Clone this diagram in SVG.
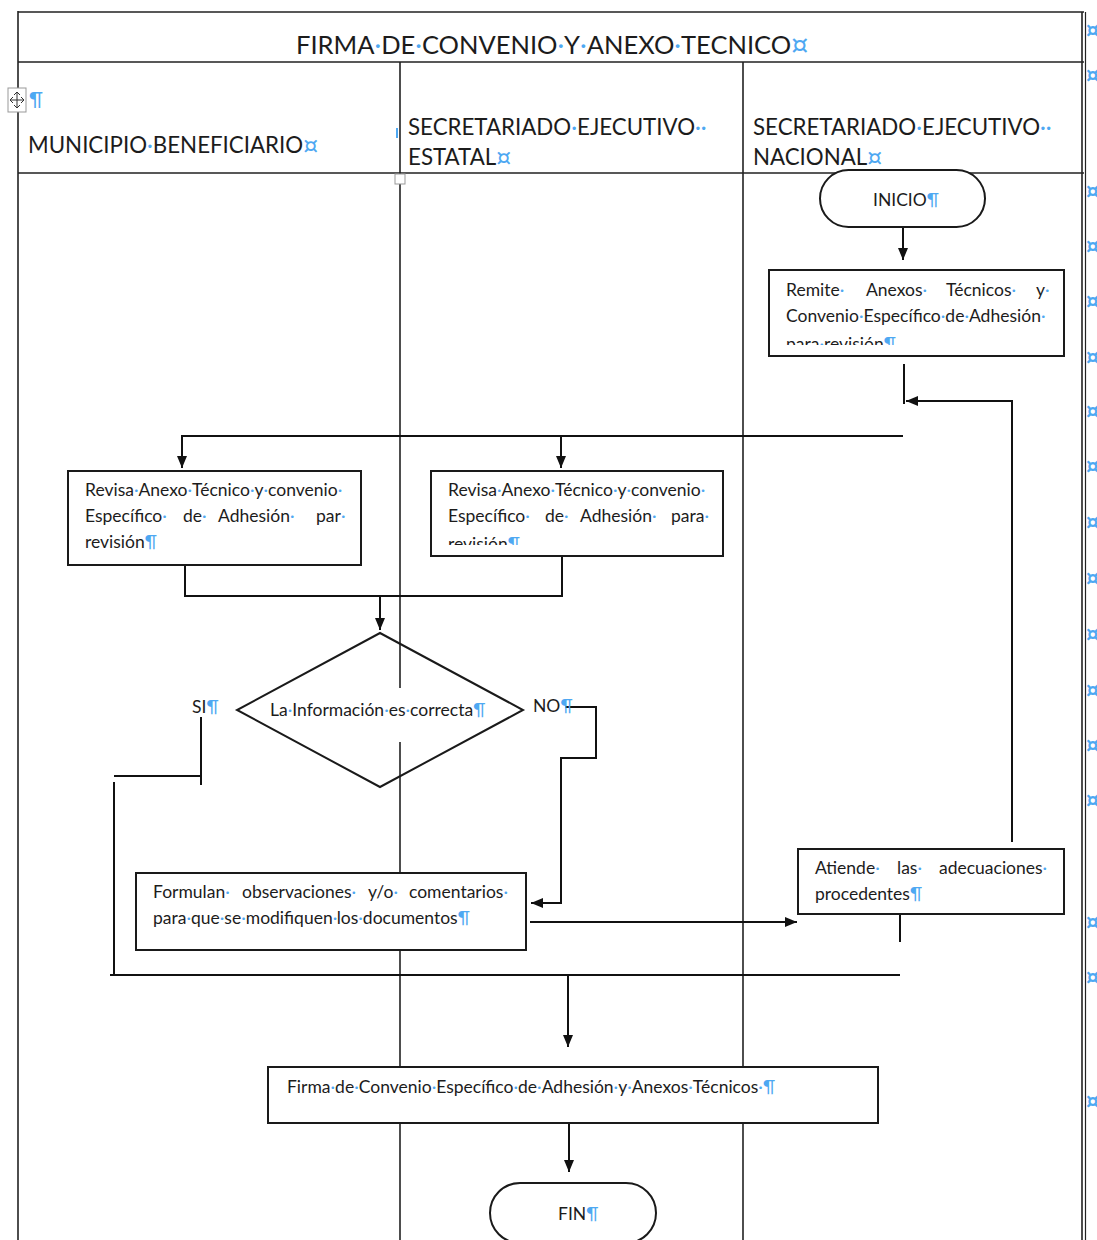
<svg xmlns="http://www.w3.org/2000/svg" width="1097" height="1240" viewBox="0 0 1097 1240">
<style>
.t{font-family:Lato,"Open Sans","Liberation Sans",sans-serif;fill:#1c1c1c}
.m{fill:#4ea8f2}
.k{fill:#4ea8f2;font-family:"DejaVu Sans",sans-serif;font-size:1.05em}
.r{fill:#4ea8f2;font-family:"DejaVu Sans",sans-serif;font-size:21px;font-weight:bold}
.grid{stroke:#222;stroke-width:1.6;fill:none}
.box{fill:#fff;stroke:#1a1a1a;stroke-width:2}
.dia{fill:none;stroke:#1a1a1a;stroke-width:2}
.c{fill:none;stroke:#111;stroke-width:2}
.b16{font-size:17.5px}
.h21{font-size:22.3px}
</style>
<defs>
<marker id="ah" markerWidth="12" markerHeight="10" refX="12" refY="5" orient="auto" markerUnits="userSpaceOnUse">
<path d="M0,0 L12,5 L0,10 z" fill="#111"/>
</marker>
<clipPath id="clipR"><rect x="770" y="270" width="294" height="75"/></clipPath>
<clipPath id="clipB"><rect x="432" y="471" width="290" height="74"/></clipPath>
</defs>
<rect width="1097" height="1240" fill="#fff"/>

<g id="table">
<path class="grid" d="M18,12 H1084 M18,62 H1084 M18,173 H1084 M18,11 V1240 M1082,12 V1240 M743,62 V1240 M400,62 V688 M400,742 V1240"/>
<path d="M1085.5,12 V1240" stroke="#222" stroke-width="1.2"/>
<rect x="8" y="88" width="18" height="24" fill="#fff" stroke="#999" stroke-width="1"/>
<path d="M17,92 V108 M10,100 H24 M14,95 L17,92 L20,95 M14,105 L17,108 L20,105 M13,97 L10,100 L13,103 M21,97 L24,100 L21,103" stroke="#333" stroke-width="1" fill="none"/>
<rect x="395" y="174" width="10" height="10" fill="#fff" stroke="#999" stroke-width="1"/>
<path d="M397,128 V138" stroke="#4ea8f2" stroke-width="2"/>
<text class="t" x="296" y="54" font-size="25.5">FIRMA<tspan class="m">·</tspan>DE<tspan class="m">·</tspan>CONVENIO<tspan class="m">·</tspan>Y<tspan class="m">·</tspan>ANEXO<tspan class="m">·</tspan>TECNICO<tspan class="k">¤</tspan></text>
<text class="t m" x="29" y="106" font-size="20">¶</text>
<text class="t h21" x="28" y="153">MUNICIPIO<tspan class="m">·</tspan>BENEFICIARIO<tspan class="k">¤</tspan></text>
<text class="t h21" x="408" y="135">SECRETARIADO<tspan class="m">·</tspan>EJECUTIVO<tspan class="m">··</tspan></text>
<text class="t h21" x="408" y="165">ESTATAL<tspan class="k">¤</tspan></text>
<text class="t h21" x="753" y="135">SECRETARIADO<tspan class="m">·</tspan>EJECUTIVO<tspan class="m">··</tspan></text>
<text class="t h21" x="753" y="165">NACIONAL<tspan class="k">¤</tspan></text>
<g class="r">
<text x="1086" y="37">¤</text><text x="1086" y="82">¤</text><text x="1086" y="198">¤</text><text x="1086" y="253">¤</text>
<text x="1086" y="308">¤</text><text x="1086" y="364">¤</text><text x="1086" y="418">¤</text><text x="1086" y="473">¤</text>
<text x="1086" y="529">¤</text><text x="1086" y="585">¤</text><text x="1086" y="641">¤</text><text x="1086" y="697">¤</text>
<text x="1086" y="752">¤</text><text x="1086" y="807">¤</text><text x="1086" y="929">¤</text><text x="1086" y="984">¤</text>
<text x="1086" y="1108">¤</text>
</g>
</g>

<g id="connectors">
<path class="c" d="M903,227 V260" marker-end="url(#ah)"/>
<path class="c" d="M904,364 V404"/>
<path class="c" d="M1012,842 V401 H906" marker-end="url(#ah)"/>
<path class="c" d="M903,436 H182 V468" marker-end="url(#ah)"/>
<path class="c" d="M561,436 V468" marker-end="url(#ah)"/>
<path class="c" d="M185,565 V596 H562 V556"/>
<path class="c" d="M380,596 V630" marker-end="url(#ah)"/>
<path class="c" d="M201,717 V785 M114,776 H201 M114,782 V975 M110,975 H900 M900,914 V942"/>
<path class="c" d="M565,707 H596 V758 H561 V903 H531" marker-end="url(#ah)"/>
<path class="c" d="M530,922 H797" marker-end="url(#ah)"/>
<path class="c" d="M568,975 V1047" marker-end="url(#ah)"/>
<path class="c" d="M569,1118 V1172" marker-end="url(#ah)"/>
</g>

<g id="inicio">
<rect class="box" x="820" y="170" width="165" height="57" rx="28.5"/>
<text class="t b16" x="873" y="206">INICIO<tspan class="m">¶</tspan></text>
</g>

<g id="remite">
<rect class="box" x="769" y="270" width="295" height="86"/>
<text class="t b16" y="296"><tspan x="786">Remite<tspan class="m">·</tspan></tspan><tspan x="866">Anexos<tspan class="m">·</tspan></tspan><tspan x="946">Técnicos<tspan class="m">·</tspan></tspan><tspan x="1036">y<tspan class="m">·</tspan></tspan></text>
<text class="t b16" x="786" y="322">Convenio<tspan class="m">·</tspan>Específico<tspan class="m">·</tspan>de<tspan class="m">·</tspan>Adhesión<tspan class="m">·</tspan></text>
<text class="t b16" x="786" y="350" clip-path="url(#clipR)">para<tspan class="m">·</tspan>revisión<tspan class="m">¶</tspan></text>
</g>

<g id="revisa-municipio">
<rect class="box" x="68" y="471" width="293" height="94"/>
<text class="t b16" x="85" y="496">Revisa<tspan class="m">·</tspan>Anexo<tspan class="m">·</tspan>Técnico<tspan class="m">·</tspan>y<tspan class="m">·</tspan>convenio<tspan class="m">·</tspan></text>
<text class="t b16" y="522"><tspan x="85">Específico<tspan class="m">·</tspan></tspan><tspan x="183">de<tspan class="m">·</tspan></tspan><tspan x="218">Adhesión<tspan class="m">·</tspan></tspan><tspan x="316">par<tspan class="m">·</tspan></tspan></text>
<text class="t b16" x="85" y="548">revisión<tspan class="m">¶</tspan></text>
</g>

<g id="revisa-estatal">
<rect class="box" x="431" y="471" width="292" height="85"/>
<text class="t b16" x="448" y="496">Revisa<tspan class="m">·</tspan>Anexo<tspan class="m">·</tspan>Técnico<tspan class="m">·</tspan>y<tspan class="m">·</tspan>convenio<tspan class="m">·</tspan></text>
<text class="t b16" y="522"><tspan x="448">Específico<tspan class="m">·</tspan></tspan><tspan x="545">de<tspan class="m">·</tspan></tspan><tspan x="580">Adhesión<tspan class="m">·</tspan></tspan><tspan x="671">para<tspan class="m">·</tspan></tspan></text>
<text class="t b16" x="448" y="550" clip-path="url(#clipB)">revisión<tspan class="m">¶</tspan></text>
</g>

<g id="decision">
<path class="dia" d="M380,633 L523,710 L380,787 L237,710 Z"/>
<text class="t b16" x="270" y="716">La<tspan class="m">·</tspan>Información<tspan class="m">·</tspan>es<tspan class="m">·</tspan>correcta<tspan class="m">¶</tspan></text>
<text class="t b16" x="192" y="713">SI<tspan class="m">¶</tspan></text>
<text class="t b16" x="533" y="712">NO<tspan class="m">¶</tspan></text>
</g>

<g id="formulan">
<rect class="box" x="136" y="873" width="390" height="77"/>
<text class="t b16" y="898"><tspan x="153">Formulan<tspan class="m">·</tspan></tspan><tspan x="242">observaciones<tspan class="m">·</tspan></tspan><tspan x="368">y/o<tspan class="m">·</tspan></tspan><tspan x="409">comentarios<tspan class="m">·</tspan></tspan></text>
<text class="t b16" x="153" y="924">para<tspan class="m">·</tspan>que<tspan class="m">·</tspan>se<tspan class="m">·</tspan>modifiquen<tspan class="m">·</tspan>los<tspan class="m">·</tspan>documentos<tspan class="m">¶</tspan></text>
</g>

<g id="atiende">
<rect class="box" x="798" y="849" width="266" height="65"/>
<text class="t b16" y="874"><tspan x="815">Atiende<tspan class="m">·</tspan></tspan><tspan x="897">las<tspan class="m">·</tspan></tspan><tspan x="939">adecuaciones<tspan class="m">·</tspan></tspan></text>
<text class="t b16" x="815" y="900">procedentes<tspan class="m">¶</tspan></text>
</g>

<g id="firma">
<rect class="box" x="268" y="1067" width="610" height="56"/>
<text class="t b16" x="287" y="1093">Firma<tspan class="m">·</tspan>de<tspan class="m">·</tspan>Convenio<tspan class="m">·</tspan>Específico<tspan class="m">·</tspan>de<tspan class="m">·</tspan>Adhesión<tspan class="m">·</tspan>y<tspan class="m">·</tspan>Anexos<tspan class="m">·</tspan>Técnicos<tspan class="m">·¶</tspan></text>
</g>

<g id="fin">
<rect class="box" x="490" y="1183" width="166" height="60" rx="30"/>
<text class="t b16" x="558" y="1220">FIN<tspan class="m">¶</tspan></text>
</g>
</svg>
